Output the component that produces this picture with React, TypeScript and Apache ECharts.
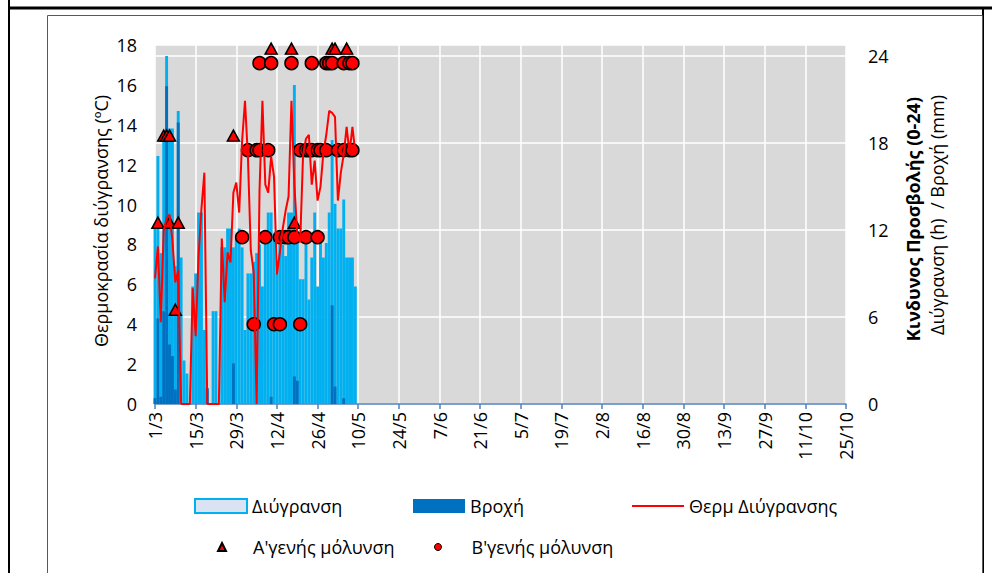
import React, { useEffect, useRef } from "react";
import * as echarts from "echarts";

const FONT = '"Open Sans", "Noto Sans", sans-serif';

// x-axis tick labels (every 14 days starting 1/3)
const tickLabels = [
  "1/3", "15/3", "29/3", "12/4", "26/4", "10/5", "24/5", "7/6", "21/6",
  "5/7", "19/7", "2/8", "16/8", "30/8", "13/9", "27/9", "11/10", "25/10",
];
const lastDay = 238; // 25/10 counted from 1/3

// daily values from 1/3 (day 0) onward
const wetnessHours = [
  12.3, 17.1, 10.4, 18.2, 24.0, 19.0, 19.0, 9.5, 20.2, 10.1,
  3.0, 2.1, 0, 8.1, 9.0, 13.2, 13.2, 5.1, 1.0, 0,
  6.4, 6.4, 0, 10.8, 10.8, 12.1, 12.1, 10.8, 11.4, 12.1,
  10.8, 5.1, 9.0, 9.0, 9.8, 10.4, 11.0, 8.1, 11.1, 13.2,
  13.2, 11.3, 9.0, 11.0, 11.0, 10.2, 13.2, 13.2, 22.0, 11.1,
  8.6, 8.6, 11.1, 7.2, 10.1, 13.2, 8.1, 11.1, 10.1, 11.1,
  13.2, 18.2, 13.8, 12.1, 12.1, 14.1, 10.1, 10.1, 10.1, 8.1,
];

const rainMm = [
  0.4, 5.9, 0.5, 6.4, 21.9, 4.1, 3.3, 1.0, 19.4, 0,
  0, 0, 0, 0, 0, 0, 0, 0, 1.1, 0,
  0, 0, 0, 0, 0, 0, 0, 2.8, 0, 0,
  0, 0, 0, 0, 0, 0, 0, 0, 0, 0,
  0.5, 0, 0, 0, 0, 0, 0, 0, 1.9, 1.6,
  0, 0, 0, 0, 0, 0, 0, 0, 0, 0,
  0, 6.8, 1.2, 0, 0, 0.4, 0, 0, 0, 0,
];

const wetnessTemp = [
  6.3, 7.9, 4.1, 8.7, 9.3, 9.5, 8.2, 6.1, 6.7, 0,
  0, 0, 0, 5.8, 3.4, 7.4, 9.8, 11.6, 0, 0,
  0, 0, 0, 8.3, 5.1, 7.6, 7.1, 10.6, 11.1, 9.6,
  13.2, 15.2, 12.4, 7.7, 6.6, 0, 10.7, 15.2, 11.0, 10.6,
  12.4, 11.4, 6.5, 7.6, 8.8, 9.7, 10.4, 15.2, 11.0, 8.5,
  8.1, 12.5, 13.3, 13.5, 11.0, 12.2, 10.2, 10.9, 12.6, 13.5,
  14.7, 14.6, 14.4, 10.2, 11.6, 12.5, 13.9, 12.6, 13.9, 12.6,
];

// infection risk markers (day index, risk level on right axis)
const primaryDays = [40, 47, 61, 62, 66, 3, 4, 5, 27, 1, 5, 8, 48, 7];
const primaryRisk = [24.5, 24.5, 24.5, 24.5, 24.5, 18.5, 18.5, 18.5, 18.5, 12.5, 12.5, 12.5, 12.5, 6.5];

const secondaryDays = [
  36, 40, 47, 54, 59, 60, 61, 65, 67, 68,
  32, 35, 36, 39, 50, 52, 53, 54, 56, 57, 59, 63, 65, 67, 68,
  30, 38, 43, 45, 46, 48, 52, 56,
  34, 41, 43, 50,
];
const secondaryRisk = [
  23.5, 23.5, 23.5, 23.5, 23.5, 23.5, 23.5, 23.5, 23.5, 23.5,
  17.5, 17.5, 17.5, 17.5, 17.5, 17.5, 17.5, 17.5, 17.5, 17.5, 17.5, 17.5, 17.5, 17.5, 17.5,
  11.5, 11.5, 11.5, 11.5, 11.5, 11.5, 11.5, 11.5,
  5.5, 5.5, 5.5, 5.5,
];

const pairs = (vals: number[]) => vals.map((v, i) => [i, v]);
const zipPairs = (xs: number[], ys: number[]) => xs.map((x, i) => [x, ys[i]]);

const textBase = { fontFamily: FONT, fontSize: 18, color: "#000" };

export default function App() {
  const ref = useRef<HTMLDivElement>(null);
  useEffect(() => {
    if (!ref.current) return;
    const chart = echarts.init(ref.current, null, { renderer: "svg" });
    const legendCommon = {
      padding: 0,
      itemWidth: 52,
      itemGap: 0,
      textStyle: { ...textBase },
    };
    chart.setOption({
      animation: false,
      backgroundColor: "#fff",
      grid: {
        left: 155,
        right: 146,
        top: 45,
        bottom: 169,
        show: true,
        backgroundColor: "#D9D9D9",
        borderWidth: 0,
      },
      xAxis: {
        type: "value",
        min: 0,
        max: lastDay,
        interval: 14,
        axisLine: { show: true, lineStyle: { color: "#4F81BD", width: 1.5 } },
        axisTick: { show: true, length: 5, lineStyle: { color: "#4F81BD", width: 1.5 } },
        splitLine: { show: true, lineStyle: { color: "#FFFFFF", width: 1.5 } },
        axisLabel: {
          ...textBase,
          rotate: 90,
          margin: 8,
          formatter: (v: number) => tickLabels[Math.round(v / 14)] ?? "",
        },
      },
      yAxis: [
        {
          type: "value",
          min: 0,
          max: 18,
          interval: 2,
          axisLine: { show: false },
          axisTick: { show: false },
          splitLine: { show: false },
          axisLabel: { ...textBase, margin: 18 },
        },
        {
          type: "value",
          min: 0,
          max: 24.75,
          interval: 6,
          axisLine: { show: false },
          axisTick: { show: false },
          splitLine: { show: true, lineStyle: { color: "#FFFFFF", width: 1.5 } },
          axisLabel: {
            ...textBase,
            margin: 22,
            formatter: (v: number) => (v % 6 === 0 ? String(v) : ""),
          },
        },
      ],
      legend: [
        { ...legendCommon, data: ["Διύγρανση"], left: 194, top: 497, itemHeight: 14, icon: "rect", itemStyle: { borderWidth: 2 } },
        { ...legendCommon, data: ["Βροχή"], left: 413, top: 497, itemHeight: 14, icon: "rect" },
        { ...legendCommon, data: [{ name: "Θερμ Διύγρανσης", icon: "rect" }], left: 632, top: 497, itemHeight: 2 },
        {
          ...legendCommon,
          data: ["Α'γενής μόλυνση"],
          left: 217,
          top: 538,
          itemWidth: 8,
          itemHeight: 8,
          textStyle: { ...textBase, padding: [0, 0, 0, 22] },
        },
        {
          ...legendCommon,
          data: ["Β'γενής μόλυνση"],
          left: 434,
          top: 538,
          itemWidth: 7,
          itemHeight: 7,
          itemStyle: { borderWidth: 1 },
          textStyle: { ...textBase, padding: [0, 0, 0, 25] },
        },
      ],
      graphic: [
        { type: "line", shape: { x1: 9, y1: 0, x2: 9, y2: 573 }, style: { stroke: "#000", lineWidth: 2 } },
        { type: "line", shape: { x1: 8, y1: 8, x2: 992, y2: 8 }, style: { stroke: "#000", lineWidth: 3 } },
        { type: "line", shape: { x1: 983, y1: 8, x2: 983, y2: 573 }, style: { stroke: "#000", lineWidth: 2 } },
        { type: "rect", shape: { x: 47.5, y: 15.5, width: 935, height: 600 }, style: { fill: "none", stroke: "#595959", lineWidth: 1 } },
        {
          type: "text",
          x: 101,
          y: 221,
          rotation: Math.PI / 2,
          style: {
            text: "Θερμοκρασία διύγρανσης (ºC)",
            font: `18px ${FONT}`,
            fill: "#000",
            align: "center",
            verticalAlign: "middle",
          },
        },
        {
          type: "text",
          x: 913,
          y: 97,
          rotation: Math.PI / 2,
          style: {
            text: "Κινδυνος Προσβολής (0-24)",
            font: `bold 18px ${FONT}`,
            fill: "#000",
            align: "right",
            verticalAlign: "middle",
          },
        },
        {
          type: "text",
          x: 937,
          y: 95,
          rotation: Math.PI / 2,
          style: {
            text: "Διύγρανση (h)  / Βροχή (mm)",
            font: `18px ${FONT}`,
            fill: "#000",
            align: "right",
            verticalAlign: "middle",
          },
        },
      ],
      series: [
        {
          name: "Διύγρανση",
          type: "bar",
          yAxisIndex: 1,
          barWidth: 2.9,
          barGap: "-100%",
          data: pairs(wetnessHours),
          itemStyle: { color: "#DAE3F3", borderColor: "#00B0F0", borderWidth: 1.8 },
        },
        {
          name: "Βροχή",
          type: "bar",
          yAxisIndex: 1,
          barWidth: 2.9,
          barGap: "-100%",
          data: pairs(rainMm),
          itemStyle: { color: "#0070C0" },
        },
        {
          name: "Θερμ Διύγρανσης",
          type: "line",
          yAxisIndex: 0,
          symbol: "none",
          showSymbol: false,
          data: pairs(wetnessTemp),
          lineStyle: { color: "#FF0000", width: 2 },
          itemStyle: { color: "#FF0000" },
        },
        {
          name: "Α'γενής μόλυνση",
          type: "scatter",
          yAxisIndex: 1,
          symbol: "triangle",
          symbolSize: [12, 11],
          clip: false,
          data: zipPairs(primaryDays, primaryRisk),
          itemStyle: { color: "#FF0000", borderColor: "#000", borderWidth: 1.5, opacity: 1 },
        },
        {
          name: "Β'γενής μόλυνση",
          type: "scatter",
          yAxisIndex: 1,
          symbol: "circle",
          symbolSize: 13,
          clip: false,
          data: zipPairs(secondaryDays, secondaryRisk),
          itemStyle: { color: "#FF0000", borderColor: "#000", borderWidth: 1.5, opacity: 1 },
        },
      ],
    });
    return () => chart.dispose();
  }, []);
  return (
    <div
      ref={ref}
      style={{ position: "fixed", left: 0, top: 0, width: 992, height: 573, background: "#fff" }}
    />
  );
}
